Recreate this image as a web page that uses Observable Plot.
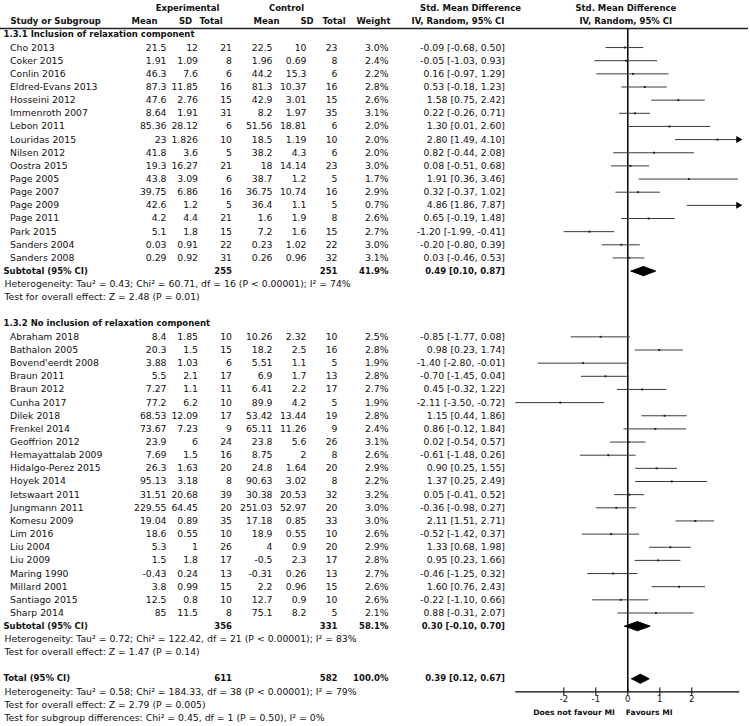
<!DOCTYPE html>
<html><head><meta charset="utf-8">
<script src="https://cdn.jsdelivr.net/npm/d3@7"></script>
<script src="https://cdn.jsdelivr.net/npm/@observablehq/plot@0.6"></script>
<style>
html,body{margin:0;padding:0;background:#fff;}
#chart svg{display:block;}
</style></head><body><div id="chart"></div>
<script>
// ---------- DATA ----------
const subgroupTitles = ["1.3.1 Inclusion of relaxation component", "1.3.2 No inclusion of relaxation component"];

const names1 = ["Cho 2013","Coker 2015","Conlin 2016","Eldred-Evans 2013","Hosseini 2012","Immenroth 2007","Lebon 2011","Louridas 2015","Nilsen 2012","Oostra 2015","Page 2005","Page 2007","Page 2009","Page 2011","Park 2015","Sanders 2004","Sanders 2008"];
const expMean1 = [21.5,1.91,46.3,87.3,47.6,8.64,85.36,23,41.8,19.3,43.8,39.75,42.6,4.2,5.1,0.03,0.29];
const expSD1   = [12,1.09,7.6,11.85,2.76,1.91,28.12,1.826,3.6,16.27,3.09,6.86,1.2,4.4,1.8,0.91,0.92];
const expN1    = [21,8,6,16,15,31,6,10,5,21,6,16,5,21,15,22,31];
const ctlMean1 = [22.5,1.96,44.2,81.3,42.9,8.2,51.56,18.5,38.2,18,38.7,36.75,36.4,1.6,7.2,0.23,0.26];
const ctlSD1   = [10,0.69,15.3,10.37,3.01,1.97,18.81,1.19,4.3,14.14,1.2,10.74,1.1,1.9,1.6,1.02,0.96];
const ctlN1    = [23,8,6,16,15,35,6,10,6,23,5,16,5,8,15,22,32];
const weight1  = [3.0,2.4,2.2,2.8,2.6,3.1,2.0,2.0,2.0,3.0,1.7,2.9,0.7,2.6,2.7,3.0,3.1];
const smd1     = [-0.09,-0.05,0.16,0.53,1.58,0.22,1.30,2.80,0.82,0.08,1.91,0.32,4.86,0.65,-1.20,-0.20,0.03];
const lo1      = [-0.68,-1.03,-0.97,-0.18,0.75,-0.26,0.01,1.49,-0.44,-0.51,0.36,-0.37,1.86,-0.19,-1.99,-0.80,-0.46];
const hi1      = [0.50,0.93,1.29,1.23,2.42,0.71,2.60,4.10,2.08,0.68,3.46,1.02,7.87,1.48,-0.41,0.39,0.53];

const names2 = ["Abraham 2018","Bathalon 2005","Bovend'eerdt 2008","Braun 2011","Braun 2012","Cunha 2017","Dilek 2018","Frenkel 2014","Geoffrion 2012","Hemayattalab 2009","Hidalgo-Perez 2015","Hoyek 2014","Ietswaart 2011","Jungmann 2011","Komesu 2009","Lim 2016","Liu 2004","Liu 2009","Maring 1990","Millard 2001","Santiago 2015","Sharp 2014"];
const expMean2 = [8.4,20.3,3.88,5.5,7.27,77.2,68.53,73.67,23.9,7.69,26.3,95.13,31.51,229.55,19.04,18.6,5.3,1.5,-0.43,3.8,12.5,85];
const expSD2   = [1.85,1.5,1.03,2.1,1.1,6.2,12.09,7.23,6,1.5,1.63,3.18,20.68,64.45,0.89,0.55,1,1.8,0.24,0.99,0.8,11.5];
const expN2    = [10,15,6,17,11,10,17,9,24,16,20,8,39,20,35,10,26,17,13,15,10,8];
const ctlMean2 = [10.26,18.2,5.51,6.9,6.41,89.9,53.42,65.11,23.8,8.75,24.8,90.63,30.38,251.03,17.18,18.9,4,-0.5,-0.31,2.2,12.7,75.1];
const ctlSD2   = [2.32,2.5,1.1,1.7,2.2,4.2,13.44,11.26,5.6,2,1.64,3.02,20.53,52.97,0.85,0.55,0.9,2.3,0.26,0.96,0.9,8.2];
const ctlN2    = [10,16,5,13,17,5,19,9,26,8,20,8,32,20,33,10,20,17,13,15,10,5];
const weight2  = [2.5,2.8,1.9,2.8,2.7,1.9,2.8,2.4,3.1,2.6,2.9,2.2,3.2,3.0,3.0,2.6,2.9,2.8,2.7,2.6,2.6,2.1];
const smd2     = [-0.85,0.98,-1.40,-0.70,0.45,-2.11,1.15,0.86,0.02,-0.61,0.90,1.37,0.05,-0.36,2.11,-0.52,1.33,0.95,-0.46,1.60,-0.22,0.88];
const lo2      = [-1.77,0.23,-2.80,-1.45,-0.32,-3.50,0.44,-0.12,-0.54,-1.48,0.25,0.25,-0.41,-0.98,1.51,-1.42,0.68,0.23,-1.25,0.76,-1.10,-0.31];
const hi2      = [0.08,1.74,-0.01,0.04,1.22,-0.72,1.86,1.84,0.57,0.26,1.55,2.49,0.52,0.27,2.71,0.37,1.98,1.66,0.32,2.43,0.66,2.07];

// summary rows: subtotal 1, subtotal 2, total
const summaryLabels = ["Subtotal (95% CI)","Subtotal (95% CI)","Total (95% CI)"];
const summaryExpN   = [255,356,611];
const summaryCtlN   = [251,331,582];
const summaryWeight = [41.9,58.1,100.0];
const summarySmd    = [0.49,0.30,0.39];
const summaryLo     = [0.10,-0.10,0.12];
const summaryHi     = [0.87,0.70,0.67];

const statLines1 = ["Heterogeneity: Tau² = 0.43; Chi² = 60.71, df = 16 (P < 0.00001); I² = 74%","Test for overall effect: Z = 2.48 (P = 0.01)"];
const statLines2 = ["Heterogeneity: Tau² = 0.72; Chi² = 122.42, df = 21 (P < 0.00001); I² = 83%","Test for overall effect: Z = 1.47 (P = 0.14)"];
const statLinesT = ["Heterogeneity: Tau² = 0.58; Chi² = 184.33, df = 38 (P < 0.00001); I² = 79%","Test for overall effect: Z = 2.79 (P = 0.005)","Test for subgroup differences: Chi² = 0.45, df = 1 (P = 0.50), I² = 0%"];

const xTicks = [-2,-1,0,1,2];
const xDomain = [-3.5,3.5];
const favourLeft = "Does not favour MI";
const favourRight = "Favours MI";
const topHeaders = ["Experimental","Control","Std. Mean Difference"];
const colHeaders = ["Study or Subgroup","Mean","SD","Total","Mean","SD","Total","Weight","IV, Random, 95% CI"];
const plotHeaders = ["Std. Mean Difference","IV, Random, 95% CI"];

// ---------- BUILD TABLE ----------
function studyRows(names, em, esd, en, cm, csd, cn, w, smd, lo, hi, start){
  return names.map((n,i)=>({row:start+i, name:n, em:em[i], esd:esd[i], en:en[i], cm:cm[i], csd:csd[i], cn:cn[i], w:w[i], smd:smd[i], lo:lo[i], hi:hi[i]}));
}
const g1Start = 1;
const s1 = studyRows(names1,expMean1,expSD1,expN1,ctlMean1,ctlSD1,ctlN1,weight1,smd1,lo1,hi1,g1Start);
const sub1Row = g1Start + names1.length;          // 18
const g2Head = sub1Row + statLines1.length + 2;   // 22
const s2 = studyRows(names2,expMean2,expSD2,expN2,ctlMean2,ctlSD2,ctlN2,weight2,smd2,lo2,hi2,g2Head+1);
const sub2Row = g2Head + 1 + names2.length;       // 45
const totRow = sub2Row + statLines2.length + 2;   // 49
const studies = [...s1, ...s2];
const groupHeads = [{row:0, text:subgroupTitles[0]},{row:g2Head, text:subgroupTitles[1]}];
const summaryRows = [sub1Row, sub2Row, totRow];
const summaries = summaryLabels.map((l,i)=>({row:summaryRows[i], label:l, en:summaryExpN[i], cn:summaryCtlN[i], w:summaryWeight[i], smd:summarySmd[i], lo:summaryLo[i], hi:summaryHi[i]}));
const stats = [
  ...statLines1.map((t,i)=>({row:sub1Row+1+i, text:t})),
  ...statLines2.map((t,i)=>({row:sub2Row+1+i, text:t})),
  ...statLinesT.map((t,i)=>({row:totRow+1+i, text:t}))
];
const lastRow = totRow + statLinesT.length;       // 52
const axisRow = totRow + 1;

const fmtCI = d => `${d.smd.toFixed(2)} [${d.lo.toFixed(2)}, ${d.hi.toFixed(2)}]`;
const fmtW = d => `${d.w.toFixed(1)}%`;

// ---------- LAYOUT (pixels) ----------
const W = 750, H = 726;
const rowY0 = 33.9, rowStep = 13.15;
const FONT = "DejaVu Sans";
const fs = 9.3, fsb = 8.5;
const col = {name:9.5, head:3, em:166, esd:197.5, en:231.5, cm:272, csd:306, cn:337, w:388, ci:504.5};
const headCenters = [187, 286, 470];
const colHeadPos = [10, 144, 185, 210.5, 266, 306.5, 333.5, 373, 457.5];
const colHeadAnchor = ["start","middle","middle","middle","middle","middle","middle","middle","middle"];

const ink = "#111";
const txt = (data, text, dx, anchor, bold, extra={}) => Plot.text(data, {
  y: "row", text, frameAnchor: "left", dx, textAnchor: anchor,
  fontFamily: FONT, fontSize: bold ? fsb : fs, fontWeight: bold ? "bold" : "normal", fill: ink, ...extra
});

const numCols = ["em","esd","en","cm","csd","cn"];

const marks = [];
// header rows
topHeaders.forEach((t,i)=> marks.push(txt([{row:-2}], ()=>t, headCenters[i], "middle", true)));
colHeaders.forEach((t,i)=> marks.push(txt([{row:-1}], ()=>t, colHeadPos[i], colHeadAnchor[i], true)));
marks.push(Plot.text([{row:-2,t:plotHeaders[0]},{row:-1,t:plotHeaders[1]}], {x:()=>0, y:"row", text:"t", dx:-2,
  fontFamily:FONT, fontSize:fsb, fontWeight:"bold", fill:ink}));
// header rule
marks.push(Plot.ruleY([-0.45], {stroke:"#222", strokeWidth:1.5, insetRight:2}));

// group headings
marks.push(txt(groupHeads, "text", col.head, "start", true));
// study rows
marks.push(txt(studies, "name", col.name, "start", false));
numCols.forEach(k=> marks.push(txt(studies, d=>String(d[k]), col[k], "end", false)));
marks.push(txt(studies, fmtW, col.w, "end", false));
marks.push(txt(studies, fmtCI, col.ci, "end", false));
// summary rows
marks.push(txt(summaries, "label", col.head, "start", true));
marks.push(txt(summaries, d=>String(d.en), col.en, "end", true));
marks.push(txt(summaries, d=>String(d.cn), col.cn, "end", true));
marks.push(txt(summaries, fmtW, col.w, "end", true));
marks.push(txt(summaries, fmtCI, col.ci, "end", true));
// stats lines
marks.push(txt(stats, "text", col.head + 1, "start", false));

// ---------- FOREST ----------
const [xMin, xMax] = xDomain;
marks.push(Plot.ruleX([0], {y1: -0.45, y2: axisRow, stroke:"#000", strokeWidth:1.5}));
marks.push(Plot.ruleY(studies, {y:"row", x1:d=>Math.max(d.lo,xMin), x2:d=>Math.min(d.hi,xMax), stroke:"#3a3a3a", strokeWidth:1}));
marks.push(Plot.dot(studies, {x:"smd", y:"row", symbol:"square", r:1.1, fill:"#222", stroke:"none"}));
marks.push(Plot.dot(studies.filter(d=>d.hi>xMax), {x:d=>Math.min(d.hi,xMax), y:"row", symbol:"triangle", rotate:90, r:2.6, dx:-1.5, fill:"#000", stroke:"none"}));
// diamonds
const half = 0.35;
const diamondPts = summaries.flatMap((d,i)=>[
  {g:i,x:d.lo,y:d.row},{g:i,x:d.smd,y:d.row-half},{g:i,x:d.hi,y:d.row},{g:i,x:d.smd,y:d.row+half},{g:i,x:d.lo,y:d.row}
]);
marks.push(Plot.line(diamondPts, {x:"x", y:"y", z:"g", fill:"#000", stroke:"#000", strokeWidth:1, curve:"linear"}));
// axis
marks.push(Plot.ruleY([axisRow], {x1:()=>xMin, x2:()=>xMax, stroke:"#000", strokeWidth:1.2}));
marks.push(Plot.axisX(xTicks, {anchor:"bottom", tickSize:8, tickPadding:0, fontSize:8.5, fontFamily:FONT, tickFormat:d=>String(d), stroke:"#000", fill:ink}));
const favRow = lastRow - 0.45;
marks.push(Plot.text([{row:favRow}], {x:()=>0, y:"row", text:()=>favourLeft, textAnchor:"end", dx:-13, fontFamily:FONT, fontSize:7.6, fontWeight:"bold", fill:ink}));
marks.push(Plot.text([{row:favRow}], {x:()=>0, y:"row", text:()=>favourRight, textAnchor:"start", dx:-2, fontFamily:FONT, fontSize:7.6, fontWeight:"bold", fill:ink}));

const chart = Plot.plot({
  width: W, height: H,
  marginTop: 0, marginRight: 0, marginLeft: 0,
  marginBottom: H - (rowY0 + axisRow*rowStep - 4),
  x: {domain: xDomain, range: [627.3 - 3.5*32, 627.3 + 3.5*32]},
  y: {type:"linear", domain:[-2, lastRow], range:[rowY0 - 2*rowStep, rowY0 + lastRow*rowStep], axis:null},
  style: {fontFamily: FONT, background:"#fff", overflow:"visible"},
  marks
});
document.getElementById("chart").appendChild(chart);
</script>
</body></html>
